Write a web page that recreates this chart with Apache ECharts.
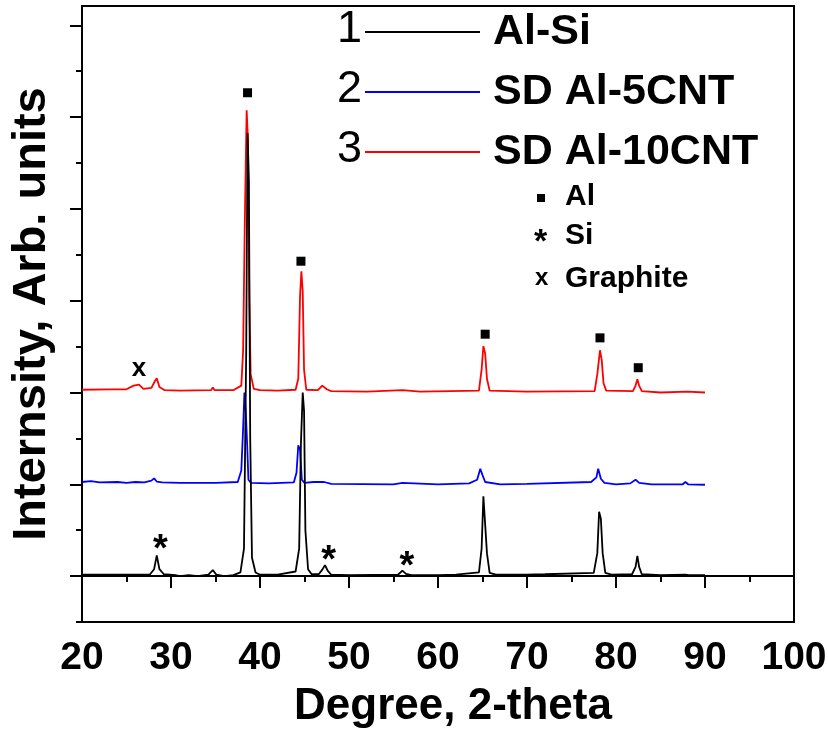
<!DOCTYPE html>
<html>
<head>
<meta charset="utf-8">
<script src="https://cdn.jsdelivr.net/npm/echarts@6/dist/echarts.min.js"></script>
<style>
  html, body { margin: 0; padding: 0; background: #fff; }
  #chart { width: 828px; height: 738px; }
</style>
</head>
<body>
<div id="chart"></div>
<script>
// 数据：[2theta, 强度]，各曲线已按图中偏移
const seriesNames = ['Al-Si', 'SD Al-5CNT', 'SD Al-10CNT']
const seriesColors = ['#000000', '#0000ff', '#ff0000']

const alSi = [
  [20, 0.03], [25, 0.03], [27.6, 0.03], [28.1, 0.15], [28.4, 0.45], [28.7, 0.15], [29.2, 0.04],
  [30.5, 0.02], [31, 0.0], [32, 0.02], [33, 0.0], [34.2, 0.03], [34.7, 0.13], [35.1, 0.03],
  [36, 0.0], [37, 0.02], [37.8, 0.08], [38.2, 0.6], [38.45, 4.9], [38.6, 9.65], [38.75, 8.6],
  [38.9, 3.0], [39.1, 0.4], [39.5, 0.08], [40, 0.03], [42, 0.03], [44.0, 0.1], [44.4, 0.6],
  [44.6, 2.9], [44.8, 4.0], [44.95, 3.6], [45.1, 1.0], [45.4, 0.15], [45.8, 0.04], [46.6, 0.04],
  [47.0, 0.14], [47.3, 0.24], [47.6, 0.12], [48.0, 0.03], [50, 0.02], [55.5, 0.03], [56.0, 0.12],
  [56.4, 0.05], [57, 0.02], [60, 0.02], [62, 0.03], [64.6, 0.08], [64.9, 0.6], [65.1, 1.74],
  [65.3, 1.72], [65.5, 0.5], [65.8, 0.07], [66.5, 0.03], [69.5, 0.03], [69.7, 0.07], [69.9, 0.03],
  [72, 0.04], [77.5, 0.07], [77.9, 0.5], [78.1, 1.4], [78.3, 1.25], [78.5, 0.5], [78.8, 0.07],
  [79.5, 0.03], [81.8, 0.04], [82.2, 0.2], [82.4, 0.44], [82.6, 0.2], [82.9, 0.04], [85, 0.02],
  [87.8, 0.03], [88.0, 0.07], [88.2, 0.02], [90, 0.02]
]
const sdAl5 = [
  [20, 2.05], [21, 2.07], [22, 2.04], [24, 2.05], [25, 2.03], [26, 2.05], [27, 2.04], [27.8, 2.08],
  [28.1, 2.13], [28.4, 2.06], [29, 2.04], [31, 2.03], [35, 2.03], [37.5, 2.05], [37.9, 2.3],
  [38.1, 3.2], [38.25, 4.0], [38.4, 3.6], [38.55, 2.9], [38.7, 2.1], [39.0, 2.03], [41, 2.02],
  [43.8, 2.04], [44.1, 2.25], [44.3, 2.85], [44.5, 2.75], [44.7, 2.1], [45.0, 2.03], [46, 2.05],
  [47.2, 2.05], [48, 2.01], [55, 2.0], [56, 2.03], [60, 2.0], [63.5, 2.02], [64.4, 2.1],
  [64.75, 2.34], [65.0, 2.2], [65.3, 2.05], [67, 2.0], [70, 2.01], [77.2, 2.05], [77.8, 2.15],
  [78.0, 2.34], [78.3, 2.12], [78.7, 2.03], [80, 2.0], [81.6, 2.02], [82.2, 2.1], [82.6, 2.03],
  [84, 2.0], [87.5, 2.0], [87.8, 2.05], [88.1, 2.0], [90, 1.99]
]
const sdAl10 = [
  [20, 4.06], [23, 4.07], [25, 4.07], [25.8, 4.15], [26.4, 4.17], [26.9, 4.08], [27.8, 4.1],
  [28.2, 4.25], [28.4, 4.31], [28.7, 4.12], [29.3, 4.05], [31, 4.04], [34.5, 4.05], [34.7, 4.11],
  [34.9, 4.05], [37, 4.05], [37.9, 4.15], [38.1, 4.9], [38.3, 7.8], [38.5, 10.15], [38.65, 9.5],
  [38.8, 6.0], [38.95, 4.4], [39.3, 4.08], [40, 4.05], [42, 4.04], [44.0, 4.06], [44.3, 4.3],
  [44.5, 6.1], [44.65, 6.64], [44.8, 6.2], [44.95, 4.5], [45.2, 4.06], [46.5, 4.05], [47.0, 4.15],
  [47.2, 4.18], [47.5, 4.07], [48, 4.03], [52, 4.02], [56, 4.05], [58, 4.02], [64.6, 4.04],
  [64.9, 4.5], [65.1, 5.01], [65.3, 4.85], [65.5, 4.3], [65.8, 4.04], [70, 4.02], [77.6, 4.03],
  [77.9, 4.4], [78.2, 4.92], [78.4, 4.7], [78.6, 4.2], [78.9, 4.04], [81.9, 4.03], [82.2, 4.15],
  [82.4, 4.29], [82.6, 4.15], [82.9, 4.03], [85, 4.0], [88, 4.02], [90, 4.0]
]

// 峰标记位置
const alMarks = [[38.6, 10.53], [44.6, 6.86], [65.3, 5.27], [78.2, 5.19], [82.5, 4.54]]
const siMarks = [[28.8, 0.75], [47.7, 0.51], [56.5, 0.39]]
const graphiteMarks = [[26.4, 4.55]]

// 刻度
const xTicks = [20, 30, 40, 50, 60, 70, 80, 90, 100]
const yMajorTicks = [0, 2, 4, 6, 8, 10, 12]
const yMinorTicks = [-1, 1, 3, 5, 7, 9, 11]

const FONT = 'Liberation Sans, Arial, sans-serif'

const chart = echarts.init(document.getElementById('chart'), null, { renderer: 'canvas' })

const lineSeries = [alSi, sdAl5, sdAl10].map((data, i) => ({
  name: seriesNames[i],
  type: 'line',
  data: data,
  showSymbol: false,
  symbol: 'none',
  z: 3 - i,
  lineStyle: { color: seriesColors[i], width: 1.8 },
  itemStyle: { color: seriesColors[i] },
  animation: false
}))

const textMark = (name, data, text, size, offsetY) => ({
  name: name,
  type: 'scatter',
  data: data,
  symbolSize: 1,
  itemStyle: { color: 'rgba(0,0,0,0)', opacity: 1 },
  label: {
    show: true,
    position: 'inside',
    formatter: text,
    color: '#000',
    opacity: 1,
    fontSize: size,
    fontWeight: 'bold',
    fontFamily: FONT,
    offset: [0, offsetY]
  },
  silent: true,
  animation: false
})

const option = {
  backgroundColor: '#fff',
  animation: false,
  grid: {
    left: 82, right: 34, top: 6, bottom: 116,
    outerBoundsMode: 'none',
    containLabel: false,
    show: true, borderColor: '#000', borderWidth: 2
  },
  legend: {
    data: seriesNames,
    orient: 'vertical',
    left: 360,
    top: 2,
    itemWidth: 115,
    itemHeight: 2,
    itemGap: 10,
    icon: 'rect',
    textStyle: {
      fontSize: 43,
      fontWeight: 'bold',
      fontFamily: FONT,
      color: '#000',
      lineHeight: 50,
      padding: [0, 0, 0, 8]
    }
  },
  xAxis: {
    type: 'value',
    min: 20,
    max: 100,
    interval: 10,
    name: 'Degree, 2-theta',
    nameLocation: 'middle',
    nameGap: 63,
    nameTextStyle: {
      fontSize: 44, fontWeight: 'bold', fontFamily: FONT, color: '#000',
      padding: [0, 0, 0, 30]
    },
    axisLine: { lineStyle: { color: '#000', width: 2 } },
    axisTick: { length: 12, lineStyle: { color: '#000', width: 2 } },
    minorTick: { show: true, splitNumber: 2, length: 6, lineStyle: { color: '#000', width: 2 } },
    axisLabel: {
      margin: 17, fontSize: 39, fontWeight: 'bold', fontFamily: FONT, color: '#000',
      customValues: xTicks
    },
    splitLine: { show: false }
  },
  yAxis: [
    {
      type: 'value',
      min: -1,
      max: 12.42,
      name: 'Internsity, Arb. units',
      nameLocation: 'middle',
      nameGap: 26,
      nameTextStyle: { fontSize: 47, fontWeight: 'bold', fontFamily: FONT, color: '#000' },
      axisLine: { show: true, lineStyle: { color: '#000', width: 2 } },
      axisTick: { show: true, length: 12, customValues: yMajorTicks, lineStyle: { color: '#000', width: 2 } },
      axisLabel: { show: false },
      splitLine: { show: false }
    },
    {
      type: 'value',
      min: -1,
      max: 12.42,
      position: 'left',
      axisLine: { show: false },
      axisTick: { show: true, length: 6, customValues: yMinorTicks, lineStyle: { color: '#000', width: 2 } },
      axisLabel: { show: false },
      splitLine: { show: false }
    }
  ],
  graphic: [
    // 图例序号
    { type: 'text', left: 337, top: 7, style: { text: '1', fontSize: 45, fontFamily: FONT, fill: '#000' } },
    { type: 'text', left: 337, top: 67, style: { text: '2', fontSize: 45, fontFamily: FONT, fill: '#000' } },
    { type: 'text', left: 337, top: 127, style: { text: '3', fontSize: 45, fontFamily: FONT, fill: '#000' } },
    // 物相标记说明
    { type: 'rect', shape: { x: 537, y: 194, width: 8, height: 8 }, style: { fill: '#000' } },
    { type: 'text', left: 565, top: 182, style: { text: 'Al', fontSize: 30, fontWeight: 'bold', fontFamily: FONT, fill: '#000' } },
    { type: 'text', left: 534, top: 226, style: { text: '*', fontSize: 34, fontWeight: 'bold', fontFamily: FONT, fill: '#000' } },
    { type: 'text', left: 565, top: 221, style: { text: 'Si', fontSize: 30, fontWeight: 'bold', fontFamily: FONT, fill: '#000' } },
    { type: 'text', left: 535, top: 266, style: { text: 'x', fontSize: 24, fontWeight: 'bold', fontFamily: FONT, fill: '#000' } },
    { type: 'text', left: 565, top: 264, style: { text: 'Graphite', fontSize: 30, fontWeight: 'bold', fontFamily: FONT, fill: '#000' } }
  ],
  series: [
    ...lineSeries,
    {
      name: 'Al',
      type: 'scatter',
      data: alMarks,
      symbol: 'rect',
      symbolSize: 9,
      itemStyle: { color: '#000', opacity: 1 },
      silent: true,
      animation: false
    },
    textMark('Si', siMarks, '*', 38, 9),
    textMark('Graphite', graphiteMarks, 'x', 26, 2)
  ]
}

chart.setOption(option)
</script>
</body>
</html>
